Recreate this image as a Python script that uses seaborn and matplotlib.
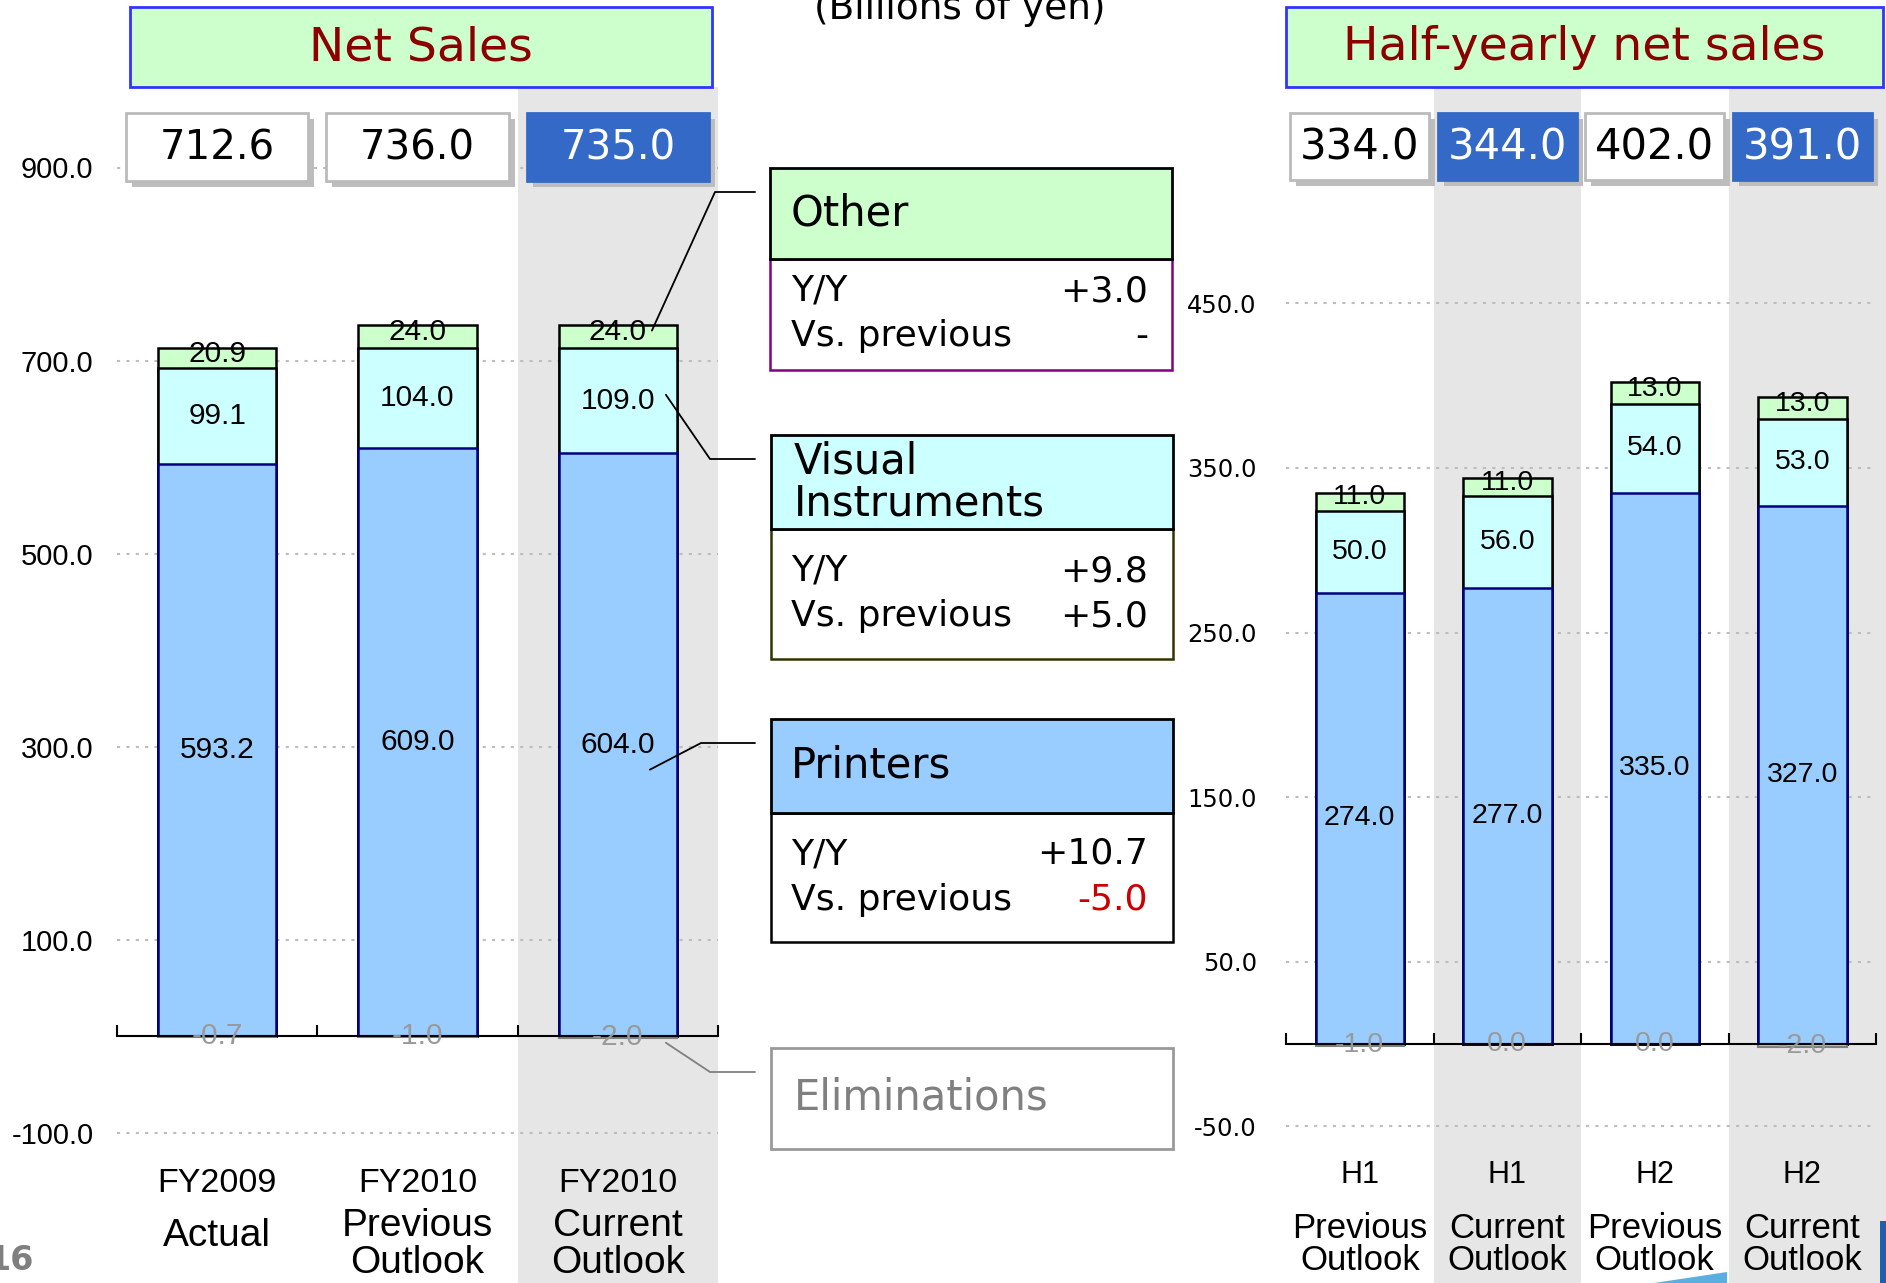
"""
Net sales by segment - annual and half-yearly stacked bars
"""
import matplotlib
matplotlib.use('Agg')
import matplotlib.pyplot as plt
import matplotlib.transforms as mtransforms
from matplotlib.patches import Rectangle, Polygon
from matplotlib.lines import Line2D
import seaborn as sns
import pandas as pd

#annual net sales (billions of yen)
fy_years = ['FY2009', 'FY2010', 'FY2010']
fy_kinds = ['Actual', 'Previous\nOutlook', 'Current\nOutlook']
fy_printers = [593.2, 609.0, 604.0]
fy_visual = [99.1, 104.0, 109.0]
fy_other = [20.9, 24.0, 24.0]
fy_elim = [-0.7, -1.0, -2.0]
fy_totals = [712.6, 736.0, 735.0]
fy_current = [False, False, True]

#half-yearly net sales (billions of yen)
half_names = ['H1', 'H1', 'H2', 'H2']
half_kinds = ['Previous\nOutlook', 'Current\nOutlook', 'Previous\nOutlook', 'Current\nOutlook']
half_printers = [274.0, 277.0, 335.0, 327.0]
half_visual = [50.0, 56.0, 54.0, 53.0]
half_other = [11.0, 11.0, 13.0, 13.0]
half_elim = [-1.0, 0.0, 0.0, -2.0]
half_totals = [334.0, 344.0, 402.0, 391.0]
half_current = [False, True, False, True]

fy_ticks = [900, 700, 500, 300, 100, -100]
half_ticks = [450, 350, 250, 150, 50, -50]

#segment notes in the middle
seg_yy = ['+3.0', '+9.8', '+10.7']
seg_vs = ['-', '+5.0', '-5.0']

PRINTERS = '#99CCFF'
VISUAL = '#CCFFFF'
OTHER = '#CCFFCC'
SHADE = '#E6E6E6'
BLUE = '#3469C8'
DARKRED = '#8B0000'
ARIAL = 'Liberation Sans'

W, H = 1886, 1283
sns.set_theme(style='white')
plt.rcParams['font.family'] = ['DejaVu Sans']
plt.rcParams['text.color'] = 'black'
plt.rcParams['axes.labelcolor'] = 'black'
plt.rcParams['xtick.color'] = 'black'
plt.rcParams['ytick.color'] = 'black'
fig = plt.figure(figsize=(W / 100, H / 100), dpi=100)


def fx(px):
    return px / W


def fy(py):
    return 1 - py / H


def axes_px(left, right, zero, scale, ylim):
    top = zero - ylim[1] * scale
    bottom = zero - ylim[0] * scale
    ax = fig.add_axes([fx(left), fy(bottom), (right - left) / W, (bottom - top) / H])
    ax.set_ylim(ylim)
    return ax


def rect_px(x0, y0, x1, y1, **kw):
    fig.add_artist(Rectangle((fx(x0), fy(y1)), (x1 - x0) / W, (y1 - y0) / H,
                             transform=fig.transFigure, **kw))


def draw_panel(ax, printers, visual, other, elim, width, ticks, ylim,
               tick_family, tick_size, tick_pad, label_size):
    df = pd.DataFrame({'pos': range(len(printers)), 'printers': printers,
                       'visual': visual, 'other': other, 'elim': elim})
    df['pv'] = df['printers'] + df['visual']
    df['total'] = df['pv'] + df['other']
    common = dict(data=df, x='pos', ax=ax, errorbar=None, width=width, saturation=1)
    #stack by overdrawing cumulative totals, tallest first
    sns.barplot(y='total', color=OTHER, edgecolor='black', linewidth=1.8, **common)
    sns.barplot(y='pv', color=VISUAL, edgecolor='black', linewidth=1.8, **common)
    sns.barplot(y='printers', color=PRINTERS, edgecolor='#000080', linewidth=1.8, **common)
    sns.barplot(y='elim', color='#C8C8C8', edgecolor='#808080', linewidth=1.5, **common)
    n = len(df)
    ax.set_xlim(-0.5, n - 0.5)
    ax.set_ylim(ylim)
    ax.set(xlabel='', ylabel='')

    for i, r in df.iterrows():
        ax.text(i, r['printers'] / 2, f"{r['printers']:.1f}", ha='center', va='center',
                fontsize=label_size, family=ARIAL, color='black')
        ax.text(i, r['printers'] + r['visual'] / 2, f"{r['visual']:.1f}", ha='center',
                va='center', fontsize=label_size, family=ARIAL, color='black')
        ax.annotate(f"{r['other']:.1f}", (i, r['pv'] + r['other'] / 2), xytext=(0, 3),
                    textcoords='offset points', ha='center', va='center',
                    fontsize=label_size, family=ARIAL, color='black')
        ax.text(i, r['elim'] / 2, f"{r['elim']:.1f}", ha='center', va='center',
                fontsize=label_size, family=ARIAL, color='#999999')

    for s in ['left', 'right', 'top']:
        ax.spines[s].set_visible(False)
    ax.spines['bottom'].set_position(('data', 0))
    ax.spines['bottom'].set_color('black')
    ax.spines['bottom'].set_linewidth(1.5)
    ax.set_xticks([k - 0.5 for k in range(n + 1)])
    ax.tick_params(axis='x', direction='in', length=8, width=1.5, color='black',
                   labelbottom=False, bottom=True)
    ax.set_yticks(ticks, labels=[f'{t:.1f}' for t in ticks], fontsize=tick_size,
                  family=tick_family)
    ax.tick_params(axis='y', length=0, pad=tick_pad, labelcolor='black')
    ax.yaxis.grid(True, linestyle=(0, (1.5, 3)), color='#BDBDBD', linewidth=1.5)
    ax.xaxis.grid(False)
    ax.set_axisbelow(True)
    ax.patch.set_visible(False)


def shade(ax, i, right_extra=0.0):
    blend = mtransforms.blended_transform_factory(ax.transData, fig.transFigure)
    ax.add_patch(Rectangle((i - 0.5, 0), 1 + right_extra, fy(87), transform=blend,
                           facecolor=SHADE, edgecolor='none', zorder=0, clip_on=False))


def category_labels(ax, names, kinds, name_y, one_y, two_y, name_size, kind_size):
    blend = mtransforms.blended_transform_factory(ax.transData, fig.transFigure)
    for i, (nm, kd) in enumerate(zip(names, kinds)):
        fig.text(i, fy(name_y), nm, transform=blend, ha='center', va='center',
                 fontsize=name_size, family=ARIAL)
        lines = kd.split('\n')
        ys = [one_y] if len(lines) == 1 else two_y
        for line, yy in zip(lines, ys):
            fig.text(i, fy(yy), line, transform=blend, ha='center', va='center',
                     fontsize=kind_size, family=ARIAL)


def value_boxes(ax, totals, current, w, top, bottom, size):
    blend = mtransforms.blended_transform_factory(ax.transData, fig.transFigure)
    shadow = blend + mtransforms.Affine2D().translate(6, -6)
    for i, (t, cur) in enumerate(zip(totals, current)):
        x0 = i - w / 2
        fig.add_artist(Rectangle((x0, fy(bottom)), w, fy(top) - fy(bottom), transform=shadow,
                                 facecolor='#BDBDBD', edgecolor='none'))
        fig.add_artist(Rectangle((x0, fy(bottom)), w, fy(top) - fy(bottom), transform=blend,
                                 facecolor=BLUE if cur else 'white',
                                 edgecolor=BLUE if cur else '#BBBBBB', linewidth=2))
        fig.text(i, fy((top + bottom) / 2 + 1), f'{t:.1f}', transform=blend, ha='center',
                 va='center', fontsize=size, color='white' if cur else 'black')


def header_box(x0, x1, text):
    rect_px(x0, 7, x1, 87, facecolor=OTHER, edgecolor='#3333FF', linewidth=2)
    fig.text(fx((x0 + x1) / 2), fy(48), text, ha='center', va='center',
             fontsize=34, color=DARKRED)


def leader(ax, xy, elbow, color):
    disp = ax.transData.transform(xy)
    x0, y0 = fig.transFigure.inverted().transform(disp)
    fig.add_artist(Line2D([x0, fx(elbow[0]), fx(755)], [y0, fy(elbow[1]), fy(elbow[1])],
                          color=color, linewidth=1.3, transform=fig.transFigure))


#left panel - annual
ax1 = axes_px(117, 718, 1036, 0.965, (-130, 970))
draw_panel(ax1, fy_printers, fy_visual, fy_other, fy_elim, 0.59, fy_ticks, (-130, 970),
           ARIAL, 21, 17, 21.5)
for i, cur in enumerate(fy_current):
    if cur:
        shade(ax1, i)
category_labels(ax1, fy_years, fy_kinds, 1183, 1236, [1226, 1263], 24.5, 28)
value_boxes(ax1, fy_totals, fy_current, 0.91, 113, 181, 29)
header_box(130, 712, 'Net Sales')

#right panel - half-yearly
ax2 = axes_px(1286, 1876, 1044, 1.646, (-75, 560))
draw_panel(ax2, half_printers, half_visual, half_other, half_elim, 0.6, half_ticks, (-75, 560),
           'DejaVu Sans', 17.5, 21, 20.5)
for i, cur in enumerate(half_current):
    if cur:
        shade(ax2, i, 0.1 if i == len(half_current) - 1 else 0.0)
category_labels(ax2, half_names, half_kinds, 1175, 1240, [1228, 1261], 22, 25)
value_boxes(ax2, half_totals, half_current, 0.94, 113, 180, 30)
header_box(1286, 1883, 'Half-yearly net sales')

fig.text(fx(960), fy(19), '(Billions of yen)', ha='center', va='baseline', fontsize=27)

#segment notes
rect_px(770, 259, 1172, 370, facecolor='white', edgecolor='#800080', linewidth=1.8)
rect_px(770, 168, 1172, 259, facecolor=OTHER, edgecolor='black', linewidth=2)
fig.text(fx(791), fy(213), 'Other', ha='left', va='center', fontsize=30)

rect_px(771, 529, 1173, 659, facecolor='white', edgecolor='#333300', linewidth=1.8)
rect_px(771, 435, 1173, 529, facecolor=VISUAL, edgecolor='black', linewidth=2)
fig.text(fx(794), fy(461), 'Visual', ha='left', va='center', fontsize=30)
fig.text(fx(794), fy(503), 'Instruments', ha='left', va='center', fontsize=30)

rect_px(771, 813, 1173, 942, facecolor='white', edgecolor='black', linewidth=1.8)
rect_px(771, 719, 1173, 813, facecolor=PRINTERS, edgecolor='black', linewidth=2)
fig.text(fx(791), fy(766), 'Printers', ha='left', va='center', fontsize=30)

rect_px(771, 1048, 1173, 1149, facecolor='white', edgecolor='#999999', linewidth=2)
fig.text(fx(794), fy(1097), 'Eliminations', ha='left', va='center', fontsize=30,
         color='#808080')

for yy_row, vs_row, yy, vs in zip([291, 571, 854], [336, 616, 900], seg_yy, seg_vs):
    fig.text(fx(791), fy(yy_row), 'Y/Y', ha='left', va='center', fontsize=26)
    fig.text(fx(1148), fy(yy_row), yy, ha='right', va='center', fontsize=26)
    fig.text(fx(791), fy(vs_row), 'Vs. previous', ha='left', va='center', fontsize=26)
    fig.text(fx(1148), fy(vs_row), vs, ha='right', va='center', fontsize=26,
             color='#CC0000' if vs.startswith('-') and vs != '-' else 'black')

#leader lines from the current-outlook bar to the notes
p, v, o, e = fy_printers[2], fy_visual[2], fy_other[2], fy_elim[2]
leader(ax1, (2.17, p + v + o - 6), (715, 192), 'black')
leader(ax1, (2.24, p + v / 2 + 6), (710, 459), 'black')
leader(ax1, (2.16, p / 2 - 26), (701, 743), 'black')
leader(ax1, (2.24, e - 5), (710, 1072), '#808080')

#page number and slide decoration
fig.text(fx(34), fy(1260), '16', ha='right', va='center', fontsize=24,
         fontweight='bold', color='#7F7F7F')
fig.add_artist(Polygon([(fx(1654), fy(1283)), (fx(1727), fy(1272)), (fx(1727), fy(1283))],
                       closed=True, transform=fig.transFigure, facecolor='#5AAFE0',
                       edgecolor='none'))
rect_px(1880, 1221, 1886, 1283, facecolor='#1F5FAF', edgecolor='none')

fig.savefig('out.png', dpi=100)
